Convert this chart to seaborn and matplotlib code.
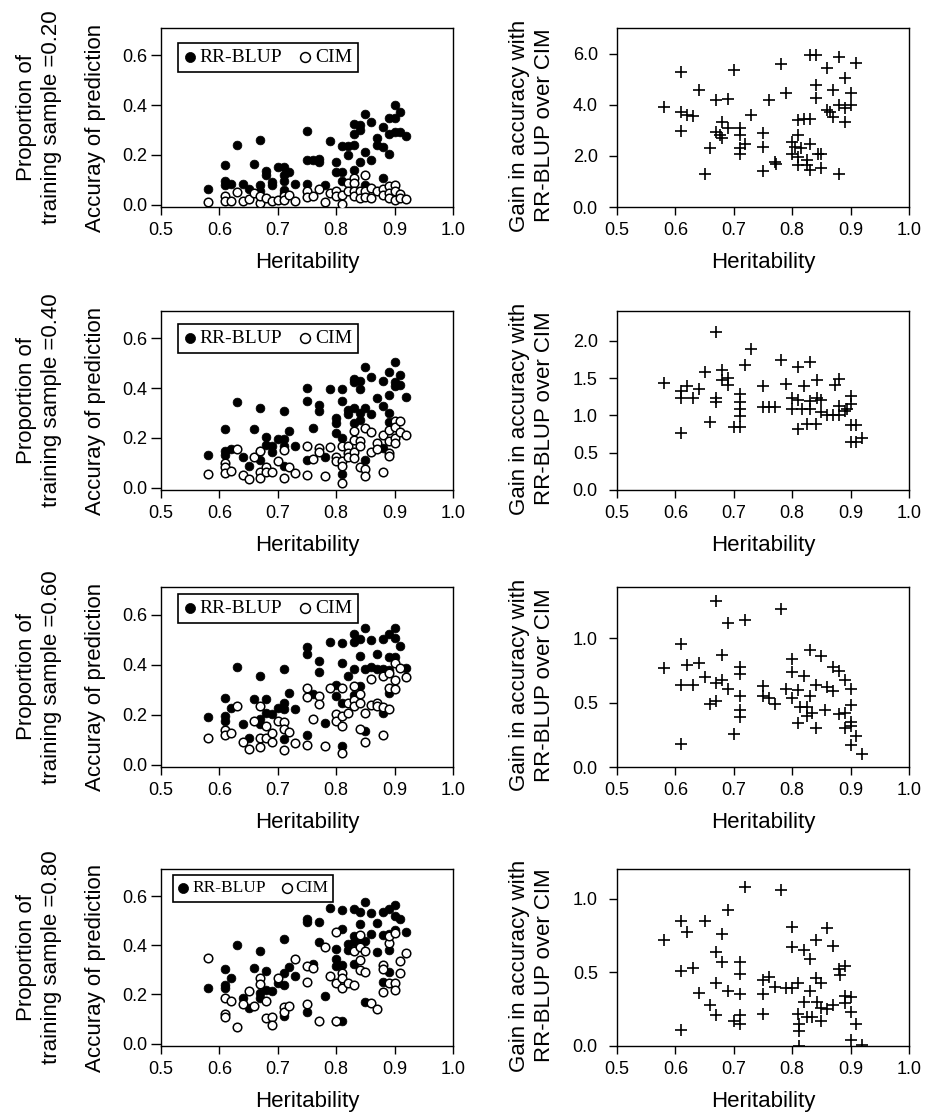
import matplotlib
matplotlib.use("Agg")
import matplotlib.pyplot as plt
import seaborn as sns
from matplotlib.ticker import FormatStrFormatter, MultipleLocator

# ---- data ----
# training proportion 0.20
h_rr_20 = [0.58, 0.61, 0.61, 0.61, 0.62, 0.63, 0.64, 0.65, 0.66, 0.67, 0.67, 0.67, 0.68, 0.68,
           0.69, 0.69, 0.70, 0.71, 0.71, 0.71, 0.71, 0.71, 0.72, 0.73, 0.75, 0.75, 0.75, 0.76,
           0.77, 0.77, 0.78, 0.79, 0.80, 0.80, 0.81, 0.81, 0.81, 0.82, 0.82, 0.83, 0.83, 0.83,
           0.83, 0.84, 0.84, 0.84, 0.85, 0.85, 0.85, 0.86, 0.86, 0.87, 0.87, 0.88, 0.88, 0.88,
           0.89, 0.89, 0.89, 0.90, 0.90, 0.90, 0.91, 0.91, 0.92]
acc_rr_20 = [0.064, 0.159, 0.093, 0.079, 0.082, 0.241, 0.083, 0.062, 0.162, 0.258, 0.079, 0.053,
             0.135, 0.117, 0.090, 0.079, 0.152, 0.152, 0.119, 0.093, 0.060, 0.046, 0.130, 0.083,
             0.294, 0.179, 0.082, 0.179, 0.185, 0.172, 0.079, 0.256, 0.170, 0.132, 0.234, 0.132,
             0.093, 0.234, 0.199, 0.325, 0.285, 0.238, 0.139, 0.318, 0.298, 0.172, 0.364, 0.212,
             0.079, 0.331, 0.179, 0.269, 0.238, 0.311, 0.232, 0.106, 0.347, 0.285, 0.205, 0.400,
             0.347, 0.291, 0.373, 0.291, 0.274]
h_cim_20 = [0.58, 0.61, 0.61, 0.62, 0.63, 0.64, 0.65, 0.66, 0.67, 0.67, 0.68, 0.69, 0.70, 0.71,
            0.71, 0.72, 0.73, 0.75, 0.75, 0.76, 0.77, 0.78, 0.79, 0.80, 0.80, 0.81, 0.81, 0.82,
            0.82, 0.83, 0.83, 0.83, 0.83, 0.84, 0.84, 0.85, 0.85, 0.85, 0.86, 0.86, 0.87, 0.88,
            0.88, 0.89, 0.89, 0.89, 0.90, 0.90, 0.90, 0.91, 0.91, 0.92]
acc_cim_20 = [0.011, 0.033, 0.016, 0.016, 0.050, 0.013, 0.024, 0.046, 0.007, 0.033, 0.026, 0.016,
              0.020, 0.033, 0.020, 0.037, 0.016, 0.053, 0.029, 0.033, 0.064, 0.011, 0.046, 0.053,
              0.036, 0.040, 0.003, 0.086, 0.056, 0.106, 0.086, 0.053, 0.033, 0.053, 0.026, 0.119,
              0.053, 0.029, 0.066, 0.026, 0.056, 0.064, 0.040, 0.073, 0.046, 0.026, 0.079, 0.053,
              0.020, 0.042, 0.026, 0.024]
h_gain_20 = [0.58, 0.61, 0.61, 0.61, 0.62, 0.63, 0.64, 0.66, 0.65, 0.67, 0.69, 0.67, 0.68, 0.677,
             0.68, 0.69, 0.70, 0.71, 0.71, 0.71, 0.71, 0.72, 0.73, 0.75, 0.75, 0.75, 0.76, 0.77,
             0.772, 0.78, 0.79, 0.80, 0.80, 0.805, 0.81, 0.81, 0.81, 0.81, 0.815, 0.82, 0.825,
             0.825, 0.83, 0.83, 0.83, 0.83, 0.84, 0.84, 0.84, 0.845, 0.85, 0.85, 0.86, 0.86,
             0.865, 0.87, 0.87, 0.88, 0.88, 0.88, 0.89, 0.89, 0.89, 0.90, 0.90, 0.91]
gain_20 = [3.92, 5.29, 3.73, 2.97, 3.60, 3.57, 4.58, 2.31, 1.31, 4.18, 4.22, 2.94, 3.31, 2.81,
           2.68, 3.07, 5.36, 3.07, 2.81, 2.29, 2.09, 2.46, 3.60, 2.88, 2.35, 1.40, 4.18, 1.76,
           1.70, 5.58, 4.44, 2.55, 2.09, 2.35, 2.81, 1.96, 3.42, 1.63, 2.29, 3.44, 1.83, 1.63,
           3.44, 2.48, 1.44, 5.95, 5.95, 4.77, 4.27, 2.09, 2.09, 1.53, 5.45, 3.79, 3.73, 4.58,
           3.53, 5.88, 3.99, 1.31, 5.06, 3.86, 3.33, 3.99, 4.44, 5.62]

# training proportion 0.40
h_rr_40 = [0.58, 0.61, 0.61, 0.61, 0.62, 0.63, 0.64, 0.65, 0.66, 0.67, 0.67, 0.67, 0.68, 0.68,
           0.69, 0.69, 0.70, 0.71, 0.71, 0.71, 0.71, 0.72, 0.73, 0.75, 0.75, 0.75, 0.76, 0.77,
           0.77, 0.78, 0.79, 0.80, 0.80, 0.80, 0.81, 0.81, 0.81, 0.81, 0.82, 0.82, 0.83, 0.83,
           0.83, 0.83, 0.84, 0.84, 0.84, 0.84, 0.85, 0.85, 0.85, 0.86, 0.86, 0.87, 0.88, 0.88,
           0.88, 0.89, 0.89, 0.89, 0.89, 0.90, 0.90, 0.90, 0.91, 0.91, 0.92]
acc_rr_40 = [0.131, 0.235, 0.147, 0.131, 0.153, 0.342, 0.123, 0.087, 0.235, 0.318, 0.147, 0.110,
             0.202, 0.173, 0.166, 0.144, 0.197, 0.308, 0.197, 0.166, 0.087, 0.228, 0.166, 0.400,
             0.347, 0.110, 0.239, 0.331, 0.308, 0.123, 0.397, 0.279, 0.259, 0.219, 0.395, 0.347,
             0.199, 0.054, 0.312, 0.294, 0.437, 0.426, 0.321, 0.259, 0.430, 0.397, 0.298, 0.272,
             0.483, 0.318, 0.111, 0.443, 0.294, 0.362, 0.430, 0.327, 0.157, 0.463, 0.374, 0.298,
             0.265, 0.503, 0.426, 0.408, 0.453, 0.413, 0.364]
h_cim_40 = [0.58, 0.61, 0.61, 0.61, 0.62, 0.63, 0.64, 0.65, 0.66, 0.67, 0.67, 0.67, 0.68, 0.68,
            0.69, 0.70, 0.71, 0.71, 0.72, 0.73, 0.75, 0.75, 0.76, 0.77, 0.77, 0.78, 0.79, 0.80,
            0.80, 0.81, 0.81, 0.81, 0.81, 0.82, 0.82, 0.82, 0.83, 0.83, 0.83, 0.83, 0.84, 0.84,
            0.84, 0.85, 0.85, 0.85, 0.86, 0.86, 0.87, 0.87, 0.88, 0.88, 0.89, 0.89, 0.89, 0.89,
            0.90, 0.90, 0.90, 0.90, 0.91, 0.91, 0.92]
acc_cim_40 = [0.054, 0.100, 0.081, 0.058, 0.065, 0.153, 0.051, 0.034, 0.123, 0.147, 0.061, 0.037,
              0.081, 0.061, 0.061, 0.107, 0.149, 0.038, 0.084, 0.058, 0.166, 0.050, 0.114, 0.157,
              0.143, 0.045, 0.162, 0.123, 0.107, 0.166, 0.107, 0.087, 0.018, 0.166, 0.140, 0.123,
              0.226, 0.193, 0.144, 0.120, 0.186, 0.166, 0.081, 0.239, 0.074, 0.048, 0.223, 0.144,
              0.180, 0.153, 0.213, 0.061, 0.232, 0.186, 0.140, 0.127, 0.268, 0.242, 0.199, 0.180,
              0.268, 0.223, 0.210]
h_gain_40 = [0.58, 0.61, 0.61, 0.61, 0.62, 0.63, 0.64, 0.65, 0.66, 0.67, 0.67, 0.67, 0.68, 0.68,
             0.69, 0.69, 0.70, 0.71, 0.71, 0.71, 0.71, 0.71, 0.72, 0.73, 0.75, 0.75, 0.76, 0.77,
             0.78, 0.79, 0.80, 0.80, 0.81, 0.81, 0.81, 0.817, 0.82, 0.825, 0.83, 0.83, 0.83, 0.84,
             0.842, 0.842, 0.85, 0.85, 0.86, 0.87, 0.873, 0.88, 0.88, 0.88, 0.89, 0.894, 0.90,
             0.90, 0.90, 0.90, 0.91, 0.91, 0.92]
gain_40 = [1.43, 1.33, 1.24, 0.76, 1.39, 1.23, 1.35, 1.58, 0.91, 2.12, 1.24, 1.18, 1.61, 1.47,
           1.50, 1.41, 0.85, 1.29, 1.18, 1.09, 0.99, 0.85, 1.67, 1.89, 1.40, 1.11, 1.11, 1.11,
           1.74, 1.42, 1.24, 1.09, 1.21, 1.65, 0.82, 1.09, 1.39, 0.88, 1.71, 1.20, 1.09, 0.88,
           1.47, 1.24, 1.21, 1.04, 1.01, 1.01, 1.41, 1.49, 1.13, 1.01, 1.06, 1.09, 1.26, 1.15,
           0.87, 0.64, 0.87, 0.64, 0.70]

# training proportion 0.60
h_rr_60 = [0.58, 0.61, 0.61, 0.61, 0.62, 0.63, 0.64, 0.65, 0.66, 0.67, 0.67, 0.67, 0.68, 0.68,
           0.69, 0.70, 0.71, 0.71, 0.71, 0.71, 0.72, 0.73, 0.75, 0.75, 0.75, 0.76, 0.77, 0.77,
           0.78, 0.79, 0.80, 0.80, 0.81, 0.81, 0.81, 0.81, 0.82, 0.83, 0.83, 0.83, 0.83, 0.84,
           0.84, 0.84, 0.85, 0.85, 0.85, 0.86, 0.86, 0.87, 0.87, 0.88, 0.88, 0.88, 0.89, 0.89,
           0.89, 0.89, 0.90, 0.90, 0.90, 0.91, 0.92]
acc_rr_60 = [0.192, 0.267, 0.195, 0.175, 0.227, 0.392, 0.161, 0.106, 0.264, 0.355, 0.181, 0.161,
             0.263, 0.205, 0.201, 0.227, 0.382, 0.247, 0.221, 0.104, 0.287, 0.221, 0.469, 0.443,
             0.119, 0.284, 0.416, 0.369, 0.165, 0.489, 0.320, 0.276, 0.487, 0.406, 0.247, 0.073,
             0.355, 0.522, 0.491, 0.382, 0.280, 0.501, 0.435, 0.313, 0.548, 0.382, 0.135, 0.498,
             0.390, 0.441, 0.382, 0.502, 0.382, 0.205, 0.522, 0.429, 0.379, 0.287, 0.548, 0.505,
             0.429, 0.474, 0.386]
h_cim_60 = [0.58, 0.61, 0.61, 0.62, 0.63, 0.64, 0.65, 0.66, 0.67, 0.67, 0.67, 0.68, 0.68, 0.69,
            0.69, 0.70, 0.71, 0.71, 0.71, 0.72, 0.73, 0.75, 0.75, 0.75, 0.76, 0.77, 0.77, 0.78,
            0.79, 0.80, 0.80, 0.81, 0.81, 0.81, 0.81, 0.82, 0.82, 0.83, 0.83, 0.83, 0.84, 0.84,
            0.84, 0.85, 0.85, 0.86, 0.86, 0.87, 0.87, 0.88, 0.88, 0.88, 0.89, 0.89, 0.89, 0.90,
            0.90, 0.90, 0.91, 0.92]
acc_cim_60 = [0.106, 0.139, 0.118, 0.125, 0.236, 0.089, 0.062, 0.174, 0.236, 0.108, 0.069, 0.155,
              0.108, 0.128, 0.089, 0.174, 0.170, 0.141, 0.059, 0.132, 0.085, 0.306, 0.269, 0.078,
              0.184, 0.276, 0.244, 0.073, 0.306, 0.201, 0.174, 0.306, 0.194, 0.155, 0.046, 0.247,
              0.207, 0.313, 0.260, 0.234, 0.284, 0.247, 0.141, 0.205, 0.092, 0.342, 0.240, 0.247,
              0.236, 0.355, 0.231, 0.118, 0.366, 0.306, 0.221, 0.406, 0.339, 0.304, 0.386, 0.350]
h_gain_60 = [0.58, 0.61, 0.61, 0.61, 0.62, 0.63, 0.64, 0.65, 0.66, 0.67, 0.67, 0.67, 0.68, 0.68,
             0.69, 0.69, 0.70, 0.71, 0.71, 0.71, 0.71, 0.71, 0.72, 0.75, 0.75, 0.76, 0.77, 0.78,
             0.79, 0.80, 0.80, 0.80, 0.81, 0.81, 0.813, 0.82, 0.825, 0.825, 0.83, 0.83, 0.834,
             0.84, 0.84, 0.85, 0.856, 0.86, 0.87, 0.87, 0.88, 0.88, 0.89, 0.89, 0.89, 0.90, 0.90,
             0.90, 0.90, 0.90, 0.91, 0.92]
gain_60 = [0.77, 0.96, 0.64, 0.18, 0.79, 0.64, 0.81, 0.70, 0.49, 1.29, 0.65, 0.51, 0.87, 0.68,
           1.12, 0.61, 0.26, 0.78, 0.72, 0.55, 0.44, 0.39, 1.14, 0.63, 0.55, 0.54, 0.49, 1.23,
           0.61, 0.84, 0.74, 0.54, 0.60, 0.34, 0.47, 0.71, 0.47, 0.40, 0.91, 0.55, 0.42, 0.64,
           0.30, 0.86, 0.44, 0.62, 0.59, 0.78, 0.75, 0.41, 0.68, 0.42, 0.30, 0.32, 0.61, 0.48,
           0.35, 0.17, 0.24, 0.10]

# training proportion 0.80
h_rr_80 = [0.58, 0.61, 0.61, 0.61, 0.62, 0.63, 0.64, 0.65, 0.66, 0.67, 0.67, 0.67, 0.68, 0.68,
           0.69, 0.70, 0.71, 0.71, 0.71, 0.71, 0.72, 0.73, 0.75, 0.75, 0.75, 0.76, 0.77, 0.77,
           0.78, 0.79, 0.80, 0.80, 0.80, 0.80, 0.81, 0.81, 0.81, 0.81, 0.82, 0.82, 0.83, 0.83,
           0.83, 0.83, 0.84, 0.84, 0.84, 0.84, 0.85, 0.85, 0.85, 0.86, 0.86, 0.87, 0.87, 0.88,
           0.88, 0.88, 0.89, 0.89, 0.89, 0.89, 0.90, 0.90, 0.90, 0.91, 0.92]
acc_rr_80 = [0.226, 0.302, 0.239, 0.226, 0.266, 0.402, 0.186, 0.146, 0.309, 0.378, 0.206, 0.186,
             0.295, 0.219, 0.212, 0.246, 0.425, 0.286, 0.239, 0.113, 0.312, 0.275, 0.507, 0.494,
             0.130, 0.325, 0.495, 0.412, 0.193, 0.551, 0.385, 0.345, 0.315, 0.093, 0.542, 0.467,
             0.319, 0.093, 0.405, 0.382, 0.547, 0.438, 0.412, 0.325, 0.534, 0.485, 0.425, 0.398,
             0.574, 0.418, 0.170, 0.531, 0.445, 0.489, 0.372, 0.534, 0.441, 0.252, 0.547, 0.445,
             0.382, 0.292, 0.564, 0.518, 0.462, 0.505, 0.452]
h_cim_80 = [0.58, 0.61, 0.61, 0.61, 0.62, 0.63, 0.64, 0.65, 0.66, 0.67, 0.67, 0.68, 0.68, 0.69,
            0.69, 0.70, 0.71, 0.71, 0.72, 0.73, 0.75, 0.75, 0.75, 0.76, 0.77, 0.78, 0.79, 0.80,
            0.80, 0.80, 0.81, 0.81, 0.81, 0.82, 0.83, 0.83, 0.84, 0.84, 0.84, 0.84, 0.85, 0.85,
            0.86, 0.87, 0.88, 0.88, 0.88, 0.89, 0.89, 0.89, 0.90, 0.90, 0.90, 0.91, 0.91, 0.92]
acc_cim_80 = [0.348, 0.186, 0.122, 0.106, 0.173, 0.069, 0.159, 0.215, 0.153, 0.266, 0.242, 0.173,
              0.104, 0.109, 0.077, 0.268, 0.149, 0.130, 0.153, 0.343, 0.316, 0.250, 0.159, 0.309,
              0.090, 0.392, 0.276, 0.454, 0.246, 0.090, 0.286, 0.266, 0.226, 0.246, 0.239, 0.375,
              0.441, 0.392, 0.339, 0.299, 0.375, 0.290, 0.166, 0.139, 0.319, 0.303, 0.210, 0.409,
              0.436, 0.246, 0.449, 0.246, 0.219, 0.335, 0.286, 0.368]
h_gain_80 = [0.58, 0.61, 0.61, 0.61, 0.62, 0.63, 0.64, 0.65, 0.66, 0.67, 0.67, 0.67, 0.68, 0.68,
             0.69, 0.69, 0.70, 0.71, 0.71, 0.71, 0.71, 0.71, 0.72, 0.75, 0.75, 0.75, 0.76, 0.77,
             0.78, 0.79, 0.80, 0.80, 0.80, 0.81, 0.81, 0.811, 0.811, 0.811, 0.82, 0.82, 0.825,
             0.83, 0.83, 0.834, 0.84, 0.84, 0.842, 0.85, 0.85, 0.85, 0.86, 0.86, 0.87, 0.87,
             0.88, 0.882, 0.89, 0.89, 0.89, 0.90, 0.90, 0.90, 0.91, 0.92]
gain_80 = [0.72, 0.85, 0.51, 0.11, 0.77, 0.53, 0.36, 0.85, 0.28, 0.64, 0.43, 0.21, 0.76, 0.57,
           0.92, 0.37, 0.17, 0.57, 0.49, 0.35, 0.21, 0.15, 1.08, 0.45, 0.35, 0.22, 0.47, 0.40,
           1.06, 0.39, 0.81, 0.67, 0.39, 0.43, 0.22, 0.15, 0.10, 0.00, 0.65, 0.30, 0.20, 0.59,
           0.37, 0.20, 0.72, 0.46, 0.30, 0.43, 0.17, 0.26, 0.80, 0.25, 0.68, 0.28, 0.52, 0.48,
           0.54, 0.34, 0.29, 0.33, 0.23, 0.04, 0.15, 0.01]

proportions = ["0.20", "0.40", "0.60", "0.80"]
accuracy_sets = [
    (h_rr_20, acc_rr_20, h_cim_20, acc_cim_20),
    (h_rr_40, acc_rr_40, h_cim_40, acc_cim_40),
    (h_rr_60, acc_rr_60, h_cim_60, acc_cim_60),
    (h_rr_80, acc_rr_80, h_cim_80, acc_cim_80),
]
gain_sets = [(h_gain_20, gain_20), (h_gain_40, gain_40),
             (h_gain_60, gain_60), (h_gain_80, gain_80)]
gain_ylims = [(0, 7.0), (0, 2.4), (0, 1.4), (0, 1.2)]
gain_steps = [2.0, 0.5, 0.5, 0.5]

# ---- layout (pixels of a 934 x 1117 canvas) ----
W, H = 934, 1117
ROWS = [(28, 207), (311, 490), (587, 767), (869, 1046)]
LEFT_X = (161, 453)
RIGHT_X = (617, 909)
LEGEND_OFFSET = [(17, 15), (17, 13), (17, 7), (12, 6)]
LEGEND_SIZE = [14, 14, 14, 12.5]

sns.set_style("ticks")
plt.rcParams.update({
    "font.family": ["Liberation Sans", "DejaVu Sans"],
    "axes.edgecolor": "black",
    "axes.linewidth": 1.0,
    "xtick.color": "black",
    "ytick.color": "black",
    "text.color": "black",
    "axes.labelcolor": "black",
    "xtick.direction": "out",
    "ytick.direction": "out",
})

LABEL_SIZE = 16
TICK_SIZE = 13


def add_px_axes(fig, xs, ys):
    left, right = xs
    top, bottom = ys
    return fig.add_axes([left / W, 1 - bottom / H, (right - left) / W, (bottom - top) / H])


def style_axes(ax, ytick_len, ytick_pad):
    ax.set_xlim(0.5, 1.0)
    ax.xaxis.set_major_locator(MultipleLocator(0.1))
    ax.xaxis.set_major_formatter(FormatStrFormatter("%.1f"))
    ax.yaxis.set_major_formatter(FormatStrFormatter("%.1f"))
    ax.tick_params(axis="x", length=5.5, width=1.0, pad=5, labelsize=TICK_SIZE)
    ax.tick_params(axis="y", length=ytick_len, width=1.0, pad=ytick_pad, labelsize=TICK_SIZE)
    for spine in ax.spines.values():
        spine.set_visible(True)
        spine.set_color("black")
        spine.set_linewidth(1.0)
    ax.set_xlabel("Heritability", fontsize=LABEL_SIZE, labelpad=10)
    ax.set_ylabel("")


fig = plt.figure(figsize=(W / 100, H / 100), dpi=100)
fig.patch.set_facecolor("white")

for i, (top, bottom) in enumerate(ROWS):
    h_rr, acc_rr, h_cim, acc_cim = accuracy_sets[i]
    h_gain, gain = gain_sets[i]
    centre = (top + bottom) / 2

    # accuracy panel
    ax = add_px_axes(fig, LEFT_X, (top, bottom))
    sns.scatterplot(x=h_rr, y=acc_rr, ax=ax, color="black", edgecolor="black",
                    s=40, linewidth=0.5, label="RR-BLUP", zorder=3)
    sns.scatterplot(x=h_cim, y=acc_cim, ax=ax, color="white", edgecolor="black",
                    s=38, linewidth=1.1, label="CIM", zorder=4)
    ax.set_ylim(-0.01, 0.71)
    ax.yaxis.set_major_locator(MultipleLocator(0.2))
    style_axes(ax, ytick_len=7, ytick_pad=3)

    dx, dy = LEGEND_OFFSET[i]
    width = LEFT_X[1] - LEFT_X[0]
    height = bottom - top
    leg = ax.legend(loc="upper left", bbox_to_anchor=(dx / width, 1 - dy / height),
                    borderaxespad=0, ncol=2, handlelength=0.6, handletextpad=0.2,
                    columnspacing=0.9, borderpad=0.3, frameon=True, fancybox=False,
                    framealpha=1, edgecolor="black", markerscale=1.15,
                    prop={"family": ["Liberation Serif", "DejaVu Serif"], "size": LEGEND_SIZE[i]})
    leg.get_frame().set_linewidth(1.2)

    fig.text(95 / W, 1 - (centre + 10) / H, "Accuray of prediction", rotation=90,
             ha="center", va="center", fontsize=LABEL_SIZE)
    fig.text(39 / W, 1 - centre / H, f"Proportion of\ntraining sample ={proportions[i]}",
             rotation=90, ha="center", va="center", fontsize=LABEL_SIZE,
             multialignment="center", linespacing=1.25)

    # gain panel
    ax2 = add_px_axes(fig, RIGHT_X, (top, bottom))
    sns.scatterplot(x=h_gain, y=gain, ax=ax2, marker="+", color="black", s=70,
                    linewidth=1.2, zorder=3)
    ax2.set_ylim(*gain_ylims[i])
    ax2.yaxis.set_major_locator(MultipleLocator(gain_steps[i]))
    style_axes(ax2, ytick_len=5.8, ytick_pad=8)

    fig.text(532 / W, 1 - (centre + 8) / H, "Gain in accuracy with\nRR-BLUP over CIM",
             rotation=90, ha="center", va="center", fontsize=LABEL_SIZE,
             multialignment="center", linespacing=1.25)

fig.savefig("out.png", dpi=100, facecolor="white")
